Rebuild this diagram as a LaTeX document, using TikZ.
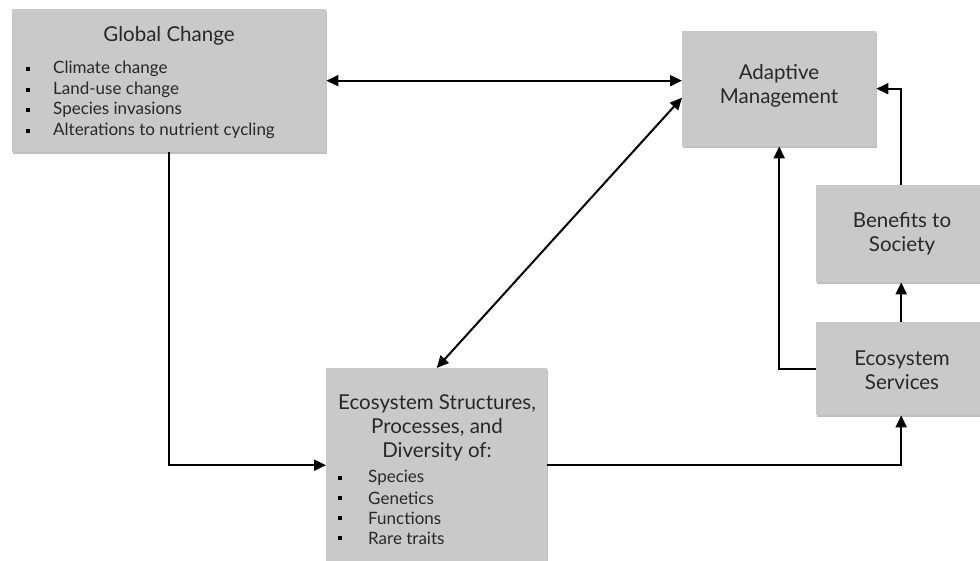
\documentclass[tikz,border=0pt]{standalone}
\usepackage{fontspec}
\setmainfont{Lato}
\usetikzlibrary{arrows.meta,shadows}
\definecolor{boxgray}{RGB}{201,201,201}
\definecolor{txt}{RGB}{40,40,40}
\begin{document}
\begin{tikzpicture}[x=1pt,y=-1pt,
  box/.style={fill=boxgray,draw=none,inner sep=0pt,anchor=north west,
    drop shadow={shadow xshift=0.8pt,shadow yshift=-1.6pt,fill=black,opacity=0.25}},
  ttl/.style={text=txt,font=\fontsize{20.5}{24}\selectfont,align=center,inner sep=0pt},
  itm/.style={text=txt,font=\fontsize{17}{20}\selectfont,anchor=west,inner sep=0pt},
  blt/.style={fill=black,minimum size=4.5pt,inner sep=0pt},
  arr/.style={line width=2pt,-{Triangle[length=12pt,width=11pt]}},
  darr/.style={line width=2pt,{Triangle[length=12pt,width=11pt]}-{Triangle[length=12pt,width=11pt]}}]
\useasboundingbox (0,0) rectangle (980,561);
% boxes
\node[box,minimum width=314pt,minimum height=143pt] (gc) at (12,9) {};
\node[box,minimum width=194pt,minimum height=115pt] (am) at (682,31) {};
\node[box,minimum width=170pt,minimum height=97pt] (ben) at (816,185) {};
\node[box,minimum width=170pt,minimum height=93pt] (svc) at (816,322) {};
\node[box,minimum width=221pt,minimum height=194pt] (es) at (326,368) {};
% texts
\node[ttl] (gct) at (169,36) {Global Change};
\foreach \y/\t [count=\i] in {69/Climate change,90/Land-use change,110/Species invasions,131/Alterations to nutrient cycling}{
  \node[blt] (gcb\i) at (28,\y) {};
  \node[itm] (gci\i) at (53,\y) {\t};
}
\node[ttl] (amt) at (779,86) {Adaptive\\Management};
\node[ttl] (bent) at (902,234) {Benefits to\\Society};
\node[ttl] (svct) at (902,370) {Ecosystem\\Services};
\node[ttl] (est) at (437,428) {Ecosystem Structures,\\Processes, and\\Diversity of:};
\foreach \y/\t [count=\i] in {478/Species,498/Genetics,518/Functions,538/Rare traits}{
  \node[blt] (esb\i) at (340,\y) {};
  \node[itm] (esi\i) at (368,\y) {\t};
}
% connectors
\draw[darr] (gc.east) -- (gc.east -| am.west);
\draw[darr] (es.north) -- ([yshift=-9pt]am.west);
\draw[arr] (gc.south) |- (es.west);
\draw[arr] (es.east) -| (svc.south);
\draw[arr] (svc.north) -- (ben.south);
\draw[arr] (ben.north) |- (am.east);
\draw[arr] (svc.west) -| (am.south);
\end{tikzpicture}
\end{document}
